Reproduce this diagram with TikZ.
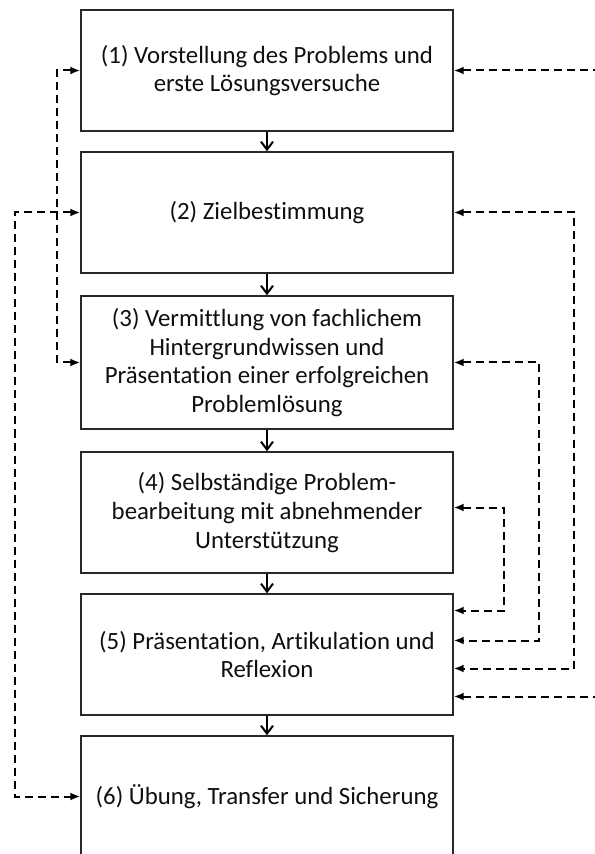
\documentclass[tikz,border=0pt]{standalone}
\usepackage{fontspec}
\setmainfont{Carlito}[Ligatures={NoCommon,NoRare}]
\usepackage{tikz}
\usetikzlibrary{arrows.meta, positioning}
\definecolor{boxline}{RGB}{40,40,40}
\definecolor{textcol}{RGB}{15,15,15}
\tikzset{
    phase/.style={
        rectangle,
        draw=boxline,
        line width=0.7pt,
        text=textcol,
        align=center,
        minimum width=186pt,
        minimum height=60.5pt,
        font=\fontsize{12.4}{14.3}\selectfont
    },
    flow/.style={
        draw=black,
        line width=1pt,
        -{Straight Barb[length=4pt,width=6pt]}
    },
    feedback/.style={
        draw=black,
        line width=1pt,
        dash pattern=on 4pt off 2.5pt
    }
}

\begin{document}
\begin{tikzpicture}[x=0.5pt, y=-0.5pt, >={Latex[length=5pt,width=4pt]}]
\useasboundingbox (0,0) rectangle (594,854);

% Phases
\node[phase] (b1) at (267,70.5) {(1) Vorstellung des Problems und\\erste Lösungsversuche};
\node[phase, below=9.8pt of b1] (b2) {(2) Zielbestimmung};
\node[phase, below=10.8pt of b2, minimum height=66.5pt] (b3) {(3) Vermittlung von fachlichem\\Hintergrundwissen und\\Präsentation einer erfolgreichen\\Problemlösung};
\node[phase, below=10.8pt of b3] (b4) {(4) Selbständige Problem-\\bearbeitung mit abnehmender\\Unterstützung};
\node[phase, below=9.8pt of b4] (b5) {(5) Präsentation, Artikulation und\\Reflexion};
\node[phase, below=9.8pt of b5] (b6) {(6) Übung, Transfer und Sicherung};

\draw[flow] (b1) -- (b2);
\draw[flow] (b2) -- (b3);
\draw[flow] (b3) -- (b4);
\draw[flow] (b4) -- (b5);
\draw[flow] (b5) -- (b6);

% Feedback left
\draw[feedback, <->] (b1.west) -- ++(-23,0) |- (b3.west);
\draw[feedback, <->] (b2.west) -- ++(-65,0) |- (b6.west);

% Feedback right
\coordinate (in1) at ([xshift=80pt]b1.east);
\coordinate (in5) at ([shift={(80pt,-21pt)}]b5.east);
\draw[feedback, ->] (in1) -- (b1.east);
\draw[feedback, <->] (b2.east) -- ++(120,0) |- ([yshift=-7pt]b5.east);
\draw[feedback, <->] (b3.east) -- ++(85,0) |- ([yshift=7pt]b5.east);
\draw[feedback, <->] ([yshift=2.5pt]b4.east) -- ++(50,0) |- ([yshift=22pt]b5.east);
\draw[feedback, ->] (in5) -- ([yshift=-21pt]b5.east);

\end{tikzpicture}
\end{document}
